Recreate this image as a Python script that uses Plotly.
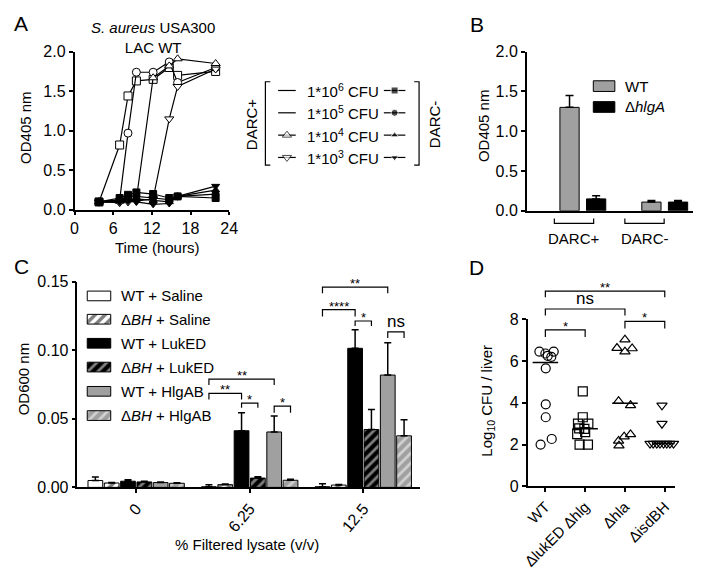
import plotly.graph_objects as go
import numpy as np

W, H = 709, 575
FONT = "Liberation Sans, Arial, Helvetica, sans-serif"
GRAY = "#a0a0a0"


def fx(p):
    return p / W


def fy(p):
    return 1 - p / H


# ---------------- Panel A data ----------------
time_hours = [3.8, 7.0, 8.3, 9.6, 12.2, 14.7, 16.0, 21.9]
cfu_labels = ["1*10<sup>6</sup> CFU", "1*10<sup>5</sup> CFU",
              "1*10<sup>4</sup> CFU", "1*10<sup>3</sup> CFU"]
darc_pos_1e6 = [0.10, 0.82, 1.44, 1.63, 1.65, 1.80, 1.70, 1.75]
darc_pos_1e5 = [0.10, 0.12, 0.97, 1.74, 1.74, 1.87, 1.61, 1.80]
darc_pos_1e4 = [0.10, 0.11, 0.13, 0.14, 1.67, 1.82, 1.91, 1.85]
darc_pos_1e3 = [0.10, 0.09, 0.10, 0.11, 0.14, 1.15, 1.56, 1.78]
darc_neg_1e6 = [0.10, 0.15, 0.19, 0.22, 0.20, 0.15, 0.17, 0.15]
darc_neg_1e5 = [0.10, 0.13, 0.16, 0.17, 0.15, 0.13, 0.17, 0.20]
darc_neg_1e4 = [0.10, 0.12, 0.13, 0.14, 0.12, 0.10, 0.17, 0.25]
darc_neg_1e3 = [0.10, 0.10, 0.11, 0.10, 0.07, 0.08, 0.17, 0.30]

# ---------------- Panel B data ----------------
b_groups = ["DARC+", "DARC-"]
b_wt = [1.30, 0.11]
b_wt_err = [0.15, 0.02]
b_hlga = [0.15, 0.11]
b_hlga_err = [0.04, 0.02]

# ---------------- Panel C data ----------------
c_doses = ["0", "6.25", "12.5"]
c_names = ["WT + Saline", "Δ<i>BH</i> + Saline", "WT + LukED",
           "Δ<i>BH</i> + LukED", "WT + HlgAB", "Δ<i>BH</i> + HlgAB"]
c_wt_saline = [0.0050, 0.0005, 0.0005]
c_wt_saline_err = [0.0025, 0.0015, 0.0022]
c_bh_saline = [0.0032, 0.0020, 0.0017]
c_bh_saline_err = [0.0004, 0.0005, 0.0004]
c_wt_luked = [0.0045, 0.0413, 0.1014]
c_wt_luked_err = [0.0010, 0.0131, 0.0136]
c_bh_luked = [0.0040, 0.0068, 0.0422]
c_bh_luked_err = [0.0005, 0.0010, 0.0146]
c_wt_hlgab = [0.0035, 0.0404, 0.0819]
c_wt_hlgab_err = [0.0004, 0.0116, 0.0235]
c_bh_hlgab = [0.0030, 0.0052, 0.0376]
c_bh_hlgab_err = [0.0003, 0.0008, 0.0117]
# significance brackets
c_sig_group = [1, 1, 1, 1, 2, 2, 2, 2]
c_sig_from = [0, 0, 2, 4, 0, 0, 2, 4]
c_sig_to = [4, 2, 3, 5, 4, 2, 3, 5]
c_sig_top = [0.0790, 0.0685, 0.0615, 0.0592, 0.1460, 0.1296, 0.1213, 0.1134]
c_sig_leg = [0.0746, 0.0640, 0.0580, 0.0544, 0.1415, 0.1246, 0.1176, 0.1090]
c_sig_text = ["**", "**", "*", "*", "**", "****", "*", "ns"]

# ---------------- Panel D data ----------------
d_groups = ["WT", "ΔlukED Δhlg", "Δhla", "ΔisdBH"]
d_wt = [6.45, 6.36, 6.25, 6.20, 6.45, 5.65, 3.93, 3.31, 2.27, 2.00]
d_luked_hlg = [4.55, 3.31, 3.00, 3.00, 2.78, 2.75, 2.60, 2.50, 2.00, 2.00]
d_hla = [7.02, 6.62, 6.60, 6.45, 4.08, 3.88, 2.49, 2.38, 2.18, 1.95]
d_isdbh = [3.88, 3.00, 2.05, 2.05, 2.05, 2.05, 2.05, 2.05, 2.05, 2.05]
d_sig_from = [0, 0, 0, 2]
d_sig_to = [3, 2, 1, 3]
d_sig_top = [9.34, 8.49, 7.49, 7.90]
d_sig_leg = [9.05, 8.18, 7.15, 7.56]
d_sig_text = ["**", "ns", "*", "*"]

# horizontal spread of overlapping points (category units)
d_wt_jit = [-0.15, 0.0, 0.06, 0.15, 0.21, 0.01, 0.01, 0.01, 0.16, -0.12]
d_luked_jit = [-0.06, -0.06, -0.18, 0.08, -0.15, -0.02, 0.0, -0.2, -0.14, 0.07]
d_hla_jit = [0.0, -0.2, 0.18, 0.0, -0.16, 0.14, 0.14, -0.02, -0.16, -0.15]
d_isdbh_jit = [-0.07, -0.07, -0.37, -0.29, -0.2, -0.12, -0.03, 0.05, 0.13, 0.22]

fig = go.Figure()

# ================= Panel A =================
open_sym = ["square", "circle", "triangle-up", "triangle-down"]
pos_series = [darc_pos_1e6, darc_pos_1e5, darc_pos_1e4, darc_pos_1e3]
neg_series = [darc_neg_1e6, darc_neg_1e5, darc_neg_1e4, darc_neg_1e3]
for s, sym in zip(pos_series, open_sym):
    fig.add_trace(go.Scatter(
        x=time_hours, y=s, mode="lines+markers", xaxis="x", yaxis="y",
        line=dict(color="black", width=1.2), cliponaxis=False,
        marker=dict(symbol=sym, size=8, color="white",
                    line=dict(color="black", width=1)),
        showlegend=False, hoverinfo="skip"))
for s, sym in zip(neg_series, open_sym):
    fig.add_trace(go.Scatter(
        x=time_hours, y=s, mode="lines+markers", xaxis="x", yaxis="y",
        line=dict(color="black", width=1.2), cliponaxis=False,
        marker=dict(symbol=sym, size=7, color="black",
                    line=dict(color="black", width=1)),
        showlegend=False, hoverinfo="skip"))

# ================= Panel B =================
b_x = list(range(len(b_groups)))
for vals, errs, col, off in [(b_wt, b_wt_err, GRAY, -0.28), (b_hlga, b_hlga_err, "black", 0.045)]:
    fig.add_trace(go.Bar(
        x=b_x, y=vals, width=0.235, offset=off, xaxis="x2", yaxis="y2",
        marker=dict(color=col, line=dict(color="black", width=1)),
        error_y=dict(type="data", array=errs, arrayminus=[0] * len(errs),
                     symmetric=False, color="black", thickness=1.5, width=4),
        showlegend=False, hoverinfo="skip"))

# ================= Panel C =================
c_vals = [c_wt_saline, c_bh_saline, c_wt_luked, c_bh_luked, c_wt_hlgab, c_bh_hlgab]
c_errs = [c_wt_saline_err, c_bh_saline_err, c_wt_luked_err, c_bh_luked_err,
          c_wt_hlgab_err, c_bh_hlgab_err]
c_bg = ["white", "white", "black", "black", GRAY, GRAY]
c_fg = ["white", "black", "black", "white", GRAY, "white"]
c_shape = ["", "/", "", "/", "", "/"]
c_sol = [0.3, 0.5, 0.3, 0.4, 0.3, 0.4]
SLOT = 0.1437
BW = 0.13
c_x = list(range(len(c_doses)))
for b in range(6):
    fig.add_trace(go.Bar(
        x=c_x, y=c_vals[b], width=BW, offset=(b - 3) * SLOT + (SLOT - BW) / 2,
        xaxis="x3", yaxis="y3",
        marker=dict(color=c_bg[b], line=dict(color="black", width=1),
                    pattern=dict(shape=c_shape[b], fgcolor=c_fg[b], bgcolor=c_bg[b],
                                 size=7, solidity=c_sol[b])),
        error_y=dict(type="data", array=c_errs[b], arrayminus=[0] * 3,
                     symmetric=False, color="black", thickness=1.5, width=3.5),
        showlegend=False, hoverinfo="skip"))

# ================= Panel D =================
d_sets = [d_wt, d_luked_hlg, d_hla, d_isdbh]
d_jits = [d_wt_jit, d_luked_jit, d_hla_jit, d_isdbh_jit]
d_syms = ["circle", "square", "triangle-up", "triangle-down"]
for i, (vals, jit, sym) in enumerate(zip(d_sets, d_jits, d_syms)):
    fig.add_trace(go.Scatter(
        x=np.array(jit) + i, y=vals, mode="markers", xaxis="x4", yaxis="y4",
        cliponaxis=False,
        marker=dict(symbol=sym, size=9, color="rgba(255,255,255,0)",
                    line=dict(color="black", width=1.2)),
        showlegend=False, hoverinfo="skip"))

shapes = []
annotations = []
for i, vals in enumerate(d_sets):
    m = float(np.median(vals))
    shapes.append(dict(type="line", xref="x4", yref="y4", x0=i - 0.32, x1=i + 0.32,
                       y0=m, y1=m, line=dict(color="black", width=1.5)))

D_YMAX = 8.0
for f, t, top, leg, txt in zip(d_sig_from, d_sig_to, d_sig_top, d_sig_leg, d_sig_text):
    path = "M %f,%f L %f,%f L %f,%f L %f,%f" % (f, leg / D_YMAX, f, top / D_YMAX,
                                               t, top / D_YMAX, t, leg / D_YMAX)
    shapes.append(dict(type="path", xref="x4", yref="y4 domain", path=path,
                       line=dict(color="black", width=1.2)))
    big = txt == "ns"
    annotations.append(dict(x=(f + t) / 2, y=top / D_YMAX, xref="x4", yref="y4 domain",
                            text=txt, showarrow=False, yanchor="bottom",
                            yshift=-1 if big else -6,
                            font=dict(size=17 if big else 13, family=FONT, color="black")))

for g, f, t, top, leg, txt in zip(c_sig_group, c_sig_from, c_sig_to, c_sig_top, c_sig_leg, c_sig_text):
    x1 = g + (f - 2.5) * SLOT
    x2 = g + (t - 2.5) * SLOT
    path = "M %f,%f L %f,%f L %f,%f L %f,%f" % (x1, leg, x1, top, x2, top, x2, leg)
    shapes.append(dict(type="path", xref="x3", yref="y3", path=path,
                       line=dict(color="black", width=1.2)))
    big = txt == "ns"
    annotations.append(dict(x=(x1 + x2) / 2, y=top, xref="x3", yref="y3",
                            text=txt, showarrow=False, yanchor="bottom",
                            yshift=-1 if big else -6,
                            font=dict(size=17 if big else 13, family=FONT, color="black")))

# ================= Legends on a page-sized pixel overlay =================
rows_a = [85, 108, 131, 154]
for r, sym, show in zip(rows_a, open_sym, [False, False, True, True]):
    fig.add_trace(go.Scatter(
        x=[278, 287, 296], y=[r, r, r], mode="lines+markers", xaxis="x5", yaxis="y5",
        line=dict(color="black", width=1.2),
        marker=dict(symbol=sym, size=[0, 8 if show else 0, 0], color="white",
                    line=dict(color="black", width=[0, 1 if show else 0, 0])),
        showlegend=False, hoverinfo="skip", cliponaxis=False))
    fig.add_trace(go.Scatter(
        x=[386, 397, 408], y=[r, r, r], mode="lines+markers", xaxis="x5", yaxis="y5",
        line=dict(color="black", width=1.2),
        marker=dict(symbol=sym, size=[0, 7, 0], color="black"),
        showlegend=False, hoverinfo="skip", cliponaxis=False))
for xs in ([270, 265, 265, 270], [417, 422, 422, 417]):
    fig.add_trace(go.Scatter(x=xs, y=[76, 76, 162, 162], mode="lines", xaxis="x5", yaxis="y5",
                             line=dict(color="black", width=1.2), showlegend=False,
                             hoverinfo="skip"))
for r, lab in zip(rows_a, cfu_labels):
    annotations.append(dict(x=305, y=r, xref="x5", yref="y5", text=lab, showarrow=False,
                            xanchor="left", yanchor="middle",
                            font=dict(size=15, family=FONT, color="black")))

# legend B
for r, col, lab in zip([80.5, 102], [GRAY, "black"], ["WT", "Δ<i>hlgA</i>"]):
    fig.add_trace(go.Bar(y=[r], x=[22], base=[600], orientation="h", width=11,
                         xaxis="x5", yaxis="y5",
                         marker=dict(color=col, line=dict(color="black", width=1)),
                         showlegend=False, hoverinfo="skip"))
    annotations.append(dict(x=630, y=r, xref="x5", yref="y5", text=lab, showarrow=False,
                            xanchor="left", yanchor="middle",
                            font=dict(size=15, family=FONT, color="black")))

# legend C
rows_c = [296.7, 320.7, 345.5, 370, 395, 420]
for b, r in enumerate(rows_c):
    fig.add_trace(go.Bar(y=[r], x=[24], base=[83], orientation="h", width=10,
                         xaxis="x5", yaxis="y5",
                         marker=dict(color=c_bg[b], line=dict(color="black", width=1),
                                     pattern=dict(shape=c_shape[b], fgcolor=c_fg[b],
                                                  bgcolor=c_bg[b], size=7, solidity=c_sol[b])),
                         showlegend=False, hoverinfo="skip"))
    annotations.append(dict(x=115, y=r, xref="x5", yref="y5", text=c_names[b], showarrow=False,
                            xanchor="left", yanchor="middle",
                            font=dict(size=15, family=FONT, color="black")))

# panel B category brackets
b_br_center = [-0.108, 0.753]
for cx, lab in zip(b_br_center, b_groups):
    x1, x2 = cx - 0.24, cx + 0.24
    shapes.append(dict(type="path", xref="x2", yref="paper",
                       path="M %f,%f L %f,%f L %f,%f L %f,%f" % (x1, fy(217), x1, fy(222), x2, fy(222), x2, fy(217)),
                       line=dict(color="black", width=1.2)))
    annotations.append(dict(x=cx, y=fy(238), xref="x2", yref="paper", text=lab, showarrow=False,
                            xanchor="center", yanchor="middle",
                            font=dict(size=15, family=FONT, color="black")))


def ann(text, xp, yp, size=15, angle=0, **kw):
    d = dict(x=fx(xp), y=fy(yp), xref="paper", yref="paper", text=text, showarrow=False,
             xanchor="center", yanchor="middle", textangle=angle,
             font=dict(size=size, family=FONT, color="black"))
    d.update(kw)
    annotations.append(d)


ann("A", 15, 16, 21)
ann("B", 481, 17, 21)
ann("C", 16, 266, 21)
ann("D", 481, 267, 21)
ann("<i>S. aureus</i> USA300<br>LAC WT", 150, 30, 15)
ann("OD405 nm", 20, 123, 15, -90)
ann("Time (hours)", 154, 247, 15)
ann("OD405 nm", 488, 121, 15, -90)
ann("DARC+", 251, 120, 15, -90)
ann("DARC-", 438, 120, 15, -90)
ann("OD600 nm", 18, 382, 15, -90)
ann("% Filtered lysate (v/v)", 246, 553, 15)
ann("Log<sub>10</sub> CFU / liver", 491, 405, 15, -90)

axis_common = dict(showgrid=False, zeroline=False, showline=True, linecolor="black",
                   linewidth=1.5, ticks="outside", ticklen=4, tickwidth=1.5, tickcolor="black",
                   tickfont=dict(size=16, family=FONT, color="black"), fixedrange=True)

fig.update_layout(
    width=W, height=H, autosize=False,
    margin=dict(l=0, r=0, t=0, b=0),
    paper_bgcolor="white", plot_bgcolor="rgba(0,0,0,0)",
    barmode="overlay", showlegend=False,
    font=dict(family=FONT, color="black"),
    xaxis=dict(domain=[fx(70), fx(228)], range=[0, 24], tickvals=[0, 6, 12, 18, 24],
               anchor="y", **{**axis_common, "ticklen": 3}),
    yaxis=dict(domain=[fy(208), fy(45)], range=[0, 2], tickvals=[0, 0.5, 1, 1.5, 2],
               tickformat=".1f", anchor="x", **axis_common),
    xaxis2=dict(domain=[fx(532), fx(702)], range=[-0.685, 1.347], anchor="y2",
                **{**axis_common, "ticks": "", "showticklabels": False}),
    yaxis2=dict(domain=[fy(209), fy(45)], range=[0, 2], tickvals=[0, 0.5, 1, 1.5, 2],
                tickformat=".1f", anchor="x2", **axis_common),
    xaxis3=dict(domain=[fx(73), fx(423)], range=[-0.517, 2.5], tickvals=c_x, ticktext=c_doses,
                tickangle=-50, anchor="y3", **axis_common),
    yaxis3=dict(domain=[fy(494), fy(282)], range=[0, 0.15], tickvals=[0, 0.05, 0.10, 0.15],
                tickformat=".2f", anchor="x3", **axis_common),
    xaxis4=dict(domain=[fx(533), fx(683)], range=[-0.443, 3.246], tickvals=[0, 1, 2, 3],
                ticktext=d_groups, tickangle=-45, anchor="y4",
                **{**axis_common, "tickfont": dict(size=15, family=FONT, color="black")}),
    yaxis4=dict(domain=[fy(493), fy(320.7)], range=[0, D_YMAX], tickvals=[0, 2, 4, 6, 8],
                anchor="x4", **axis_common),
    xaxis5=dict(domain=[0, 1], range=[0, W], visible=False, anchor="y5", fixedrange=True),
    yaxis5=dict(domain=[0, 1], range=[H, 0], visible=False, anchor="x5", fixedrange=True),
    shapes=shapes,
    annotations=annotations,
)

fig.write_html("out.html", config={"displayModeBar": False},
               post_script="document.body.style.margin='0px';document.body.style.overflow='hidden';")
